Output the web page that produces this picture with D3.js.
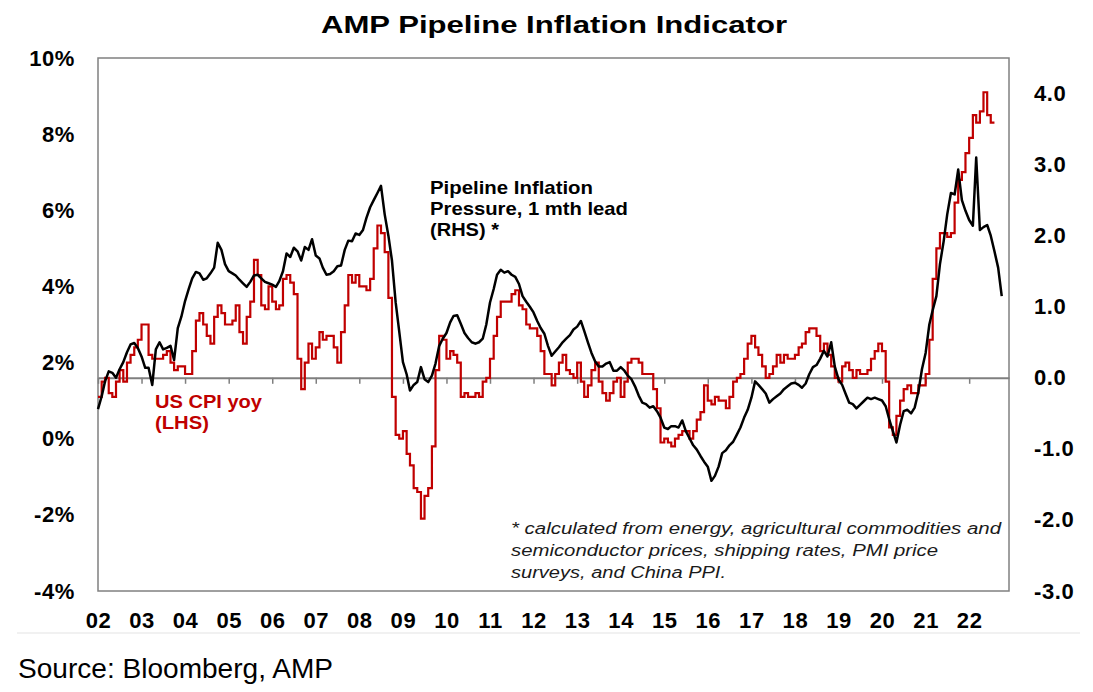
<!DOCTYPE html>
<html>
<head>
<meta charset="utf-8">
<script src="https://cdn.jsdelivr.net/npm/d3@7"></script>
<style>
body { margin: 0; background: #fff; }
text { font-family: "Liberation Sans", Arial, sans-serif; }
</style>
</head>
<body>
<script>
// US CPI yoy (%), monthly from Jan 2002 - LHS
var cpiYoy = [
  1.1,1.1,1.5,1.6,1.2,1.1,1.5,1.8,1.5,2.0,2.2,2.4,   // 02
  2.6,3.0,3.0,2.2,2.1,2.1,2.1,2.2,2.3,2.0,1.8,1.9,   // 03
  1.9,1.7,1.7,2.3,3.1,3.3,3.0,2.7,2.5,3.2,3.5,3.3,   // 04
  3.0,3.0,3.1,3.5,2.8,2.5,3.2,3.6,4.7,4.3,3.5,3.4,   // 05
  4.0,3.6,3.4,3.5,4.2,4.3,4.1,3.8,2.1,1.3,2.0,2.5,   // 06
  2.1,2.4,2.8,2.6,2.7,2.7,2.4,2.0,2.8,3.5,4.3,4.1,   // 07
  4.3,4.0,4.0,3.9,4.2,5.0,5.6,5.4,4.9,3.7,1.1,0.1,   // 08
  0.0,0.2,-0.4,-0.7,-1.3,-1.4,-2.1,-1.5,-1.3,-0.2,1.8,2.7, // 09
  2.6,2.1,2.3,2.2,2.0,1.1,1.2,1.1,1.1,1.2,1.1,1.5,   // 10
  1.6,2.1,2.7,3.2,3.6,3.6,3.6,3.8,3.9,3.5,3.4,3.0,   // 11
  2.9,2.9,2.7,2.3,1.7,1.7,1.4,1.7,2.0,2.2,1.8,1.7,   // 12
  1.6,2.0,1.5,1.1,1.4,1.8,2.0,1.5,1.2,1.0,1.2,1.5,   // 13
  1.6,1.1,1.5,2.0,2.1,2.1,2.0,1.7,1.7,1.7,1.3,0.8,   // 14
  -0.1,0.0,-0.1,-0.2,0.0,0.1,0.2,0.2,0.0,0.2,0.5,0.7, // 15
  1.4,1.0,0.9,1.1,1.0,1.0,0.8,1.1,1.5,1.6,1.7,2.1,   // 16
  2.5,2.7,2.4,2.2,1.9,1.6,1.7,1.9,2.2,2.0,2.2,2.1,   // 17
  2.1,2.2,2.4,2.5,2.8,2.9,2.9,2.7,2.3,2.5,2.2,1.9,   // 18
  1.6,1.5,1.9,2.0,1.8,1.6,1.8,1.7,1.7,1.8,2.1,2.3,   // 19
  2.5,2.3,1.5,0.3,0.1,0.6,1.0,1.3,1.4,1.2,1.2,1.4,   // 20
  1.4,1.7,2.6,4.2,5.0,5.4,5.4,5.3,5.4,6.2,6.8,7.0,   // 21
  7.5,7.9,8.5,8.3,8.6,9.1,8.5,8.3                    // 22
];

// Pipeline inflation pressure, 1 mth lead, monthly from Jan 2002 - RHS
var pipeline = [
  -0.44,-0.26,-0.05,0.09,0.07,0.00,0.12,0.22,0.36,0.47,0.49,0.42,   // 02
  0.30,0.14,0.14,-0.10,0.40,0.50,0.40,0.42,0.45,0.25,0.70,0.86,    // 03
  1.08,1.25,1.40,1.49,1.47,1.38,1.40,1.47,1.55,1.90,1.80,1.60,     // 04
  1.50,1.47,1.44,1.38,1.33,1.28,1.35,1.44,1.45,1.40,1.35,1.33,     // 05
  1.31,1.28,1.36,1.50,1.75,1.70,1.83,1.78,1.65,1.84,1.80,1.95,     // 06
  1.72,1.68,1.55,1.45,1.46,1.50,1.57,1.58,1.80,1.93,1.92,2.03,     // 07
  2.01,2.08,2.25,2.40,2.50,2.60,2.70,2.30,2.00,1.65,1.06,0.65,     // 08
  0.22,0.05,-0.18,-0.10,-0.06,0.15,-0.02,-0.06,0.03,0.20,0.45,0.55, // 09
  0.63,0.78,0.87,0.88,0.76,0.63,0.56,0.50,0.48,0.50,0.55,0.75,     // 10
  1.06,1.25,1.45,1.52,1.48,1.50,1.45,1.42,1.32,1.15,1.07,1.00,     // 11
  0.92,0.80,0.70,0.62,0.45,0.31,0.37,0.43,0.50,0.55,0.60,0.68,     // 12
  0.72,0.80,0.66,0.50,0.35,0.23,0.16,0.16,0.20,0.22,0.10,0.10,     // 13
  0.15,0.10,0.03,-0.02,-0.12,-0.25,-0.35,-0.37,-0.42,-0.40,-0.47,-0.56, // 14
  -0.70,-0.72,-0.68,-0.68,-0.70,-0.60,-0.75,-0.85,-0.95,-1.01,-1.10,-1.18, // 15
  -1.25,-1.45,-1.38,-1.25,-1.06,-1.02,-0.95,-0.90,-0.80,-0.70,-0.56,-0.45, // 16
  -0.28,-0.05,-0.10,-0.16,-0.22,-0.35,-0.30,-0.26,-0.22,-0.16,-0.12,-0.08, // 17
  -0.07,-0.10,-0.14,-0.08,0.05,0.15,0.18,0.27,0.38,0.30,0.50,0.16, // 18
  -0.02,-0.10,-0.22,-0.35,-0.37,-0.43,-0.38,-0.33,-0.28,-0.30,-0.28,-0.30, // 19
  -0.32,-0.40,-0.58,-0.75,-0.91,-0.66,-0.47,-0.45,-0.50,-0.42,-0.20,0.12, // 20
  0.35,0.75,0.95,1.15,1.60,1.92,2.30,2.60,2.58,2.93,2.50,2.35,     // 21
  2.22,2.14,3.10,2.08,2.12,2.15,2.00,1.78,1.55,1.15                // 22
];

var leftTicks = [-4, -2, 0, 2, 4, 6, 8, 10];
var rightTicks = [-3, -2, -1, 0, 1, 2, 3, 4];

var chartTitle = "AMP Pipeline Inflation Indicator";
var pipelineLabel = ["Pipeline Inflation", "Pressure, 1 mth lead", "(RHS) *"];
var cpiLabel = ["US CPI yoy", "(LHS)"];
var footnote = [
  "* calculated from energy, agricultural commodities and",
  "semiconductor prices, shipping rates, PMI price",
  "surveys, and China PPI."
];
var sourceText = "Source: Bloomberg, AMP";

//SVG dimension variables
var w = 1093, h = 692;
var plot = { left: 98, right: 1009, top: 58, bottom: 591 };

var svg = d3.select("body")
    .append("svg")
    .attr("width", w)
    .attr("height", h)
    .style("background-color", "#fff");

var start = new Date(2002, 0, 1);
function monthDate(i) { return d3.timeMonth.offset(start, i); }

var x = d3.scaleTime()
    .domain([start, new Date(2022, 11, 1)])
    .range([plot.left, plot.right]);

var yL = d3.scaleLinear().domain([-4, 10]).range([plot.bottom, plot.top]);
var yR = d3.scaleLinear().domain([-3, 4.5]).range([plot.bottom, plot.top]);

//title
svg.append("text")
    .attr("x", 554)
    .attr("y", 33)
    .attr("text-anchor", "middle")
    .attr("font-size", 24)
    .attr("font-weight", "bold")
    .attr("textLength", 466)
    .attr("lengthAdjust", "spacingAndGlyphs")
    .text(chartTitle);

//plot frame
svg.append("rect")
    .attr("x", plot.left)
    .attr("y", plot.top)
    .attr("width", plot.right - plot.left)
    .attr("height", plot.bottom - plot.top)
    .attr("fill", "none")
    .attr("stroke", "#808080")
    .attr("stroke-width", 1.5);

//zero line of the RHS with year ticks
var zeroAxis = svg.append("g")
    .attr("transform", "translate(0," + yR(0) + ")")
    .call(d3.axisBottom(x)
        .ticks(d3.timeYear.every(1))
        .tickSize(6)
        .tickSizeOuter(0)
        .tickFormat(""));
zeroAxis.select(".domain").attr("stroke", "#7f7f7f").attr("stroke-width", 2);
zeroAxis.selectAll(".tick line").attr("stroke", "#7f7f7f").attr("stroke-width", 1.5);

//year labels
var xAxis = svg.append("g")
    .attr("transform", "translate(0," + plot.bottom + ")")
    .call(d3.axisBottom(x)
        .ticks(d3.timeYear.every(1))
        .tickSize(0)
        .tickPadding(21)
        .tickFormat(d3.timeFormat("%y")));
xAxis.select(".domain").remove();

//left axis
var leftAxis = svg.append("g")
    .attr("transform", "translate(" + plot.left + ",0)")
    .call(d3.axisLeft(yL)
        .tickValues(leftTicks)
        .tickSize(0)
        .tickPadding(23)
        .tickFormat(function(d){ return d + "%"; }));
leftAxis.select(".domain").remove();

//right axis
var rightAxis = svg.append("g")
    .attr("transform", "translate(" + plot.right + ",0)")
    .call(d3.axisRight(yR)
        .tickValues(rightTicks)
        .tickSize(0)
        .tickPadding(25)
        .tickFormat(function(d){ return d.toFixed(1); }));
rightAxis.select(".domain").remove();

[xAxis, leftAxis, rightAxis].forEach(function(g){
    g.attr("font-family", null).attr("font-size", null);
    g.selectAll("text")
        .attr("font-size", 22)
        .attr("font-weight", "bold")
        .attr("fill", "#000")
        .attr("letter-spacing", 0.6);
});

//CPI line (step)
var cpiLine = d3.line()
    .x(function(d, i){ return x(monthDate(i)); })
    .y(function(d){ return yL(d); })
    .curve(d3.curveStepBefore);

svg.append("path")
    .datum(cpiYoy)
    .attr("d", cpiLine)
    .attr("fill", "none")
    .attr("stroke", "#c00000")
    .attr("stroke-width", 2.2);

//pipeline line
var pipeLine = d3.line()
    .x(function(d, i){ return x(monthDate(i)); })
    .y(function(d){ return yR(d); });

svg.append("path")
    .datum(pipeline)
    .attr("d", pipeLine)
    .attr("fill", "none")
    .attr("stroke", "#000")
    .attr("stroke-width", 2.5)
    .attr("stroke-linejoin", "round");

//labels inside the chart
function addText(tx, ty, str, opts) {
    var t = svg.append("text")
        .attr("x", tx)
        .attr("y", ty)
        .attr("font-size", opts.size)
        .attr("font-weight", opts.weight || "normal")
        .attr("font-style", opts.style || "normal")
        .attr("fill", opts.fill || "#000")
        .text(str);
    if (opts.len) {
        t.attr("textLength", opts.len).attr("lengthAdjust", "spacingAndGlyphs");
    }
    return t;
}

var pipeLens = [163, 198, 69];
pipelineLabel.forEach(function(s, i){
    addText(430, 194 + i * 21, s, { size: 19, weight: "bold", len: pipeLens[i] });
});

var cpiLens = [107, 54];
cpiLabel.forEach(function(s, i){
    addText(155, 408 + i * 21, s, { size: 18, weight: "bold", fill: "#c00000", len: cpiLens[i] });
});

var footLens = [490, 427, 215];
footnote.forEach(function(s, i){
    addText(511, 534 + i * 22, s, { size: 16, style: "italic", fill: "#1a1a1a", len: footLens[i] });
});

//separator and source
svg.append("line")
    .attr("x1", 17).attr("x2", 1080)
    .attr("y1", 633).attr("y2", 633)
    .attr("stroke", "#ececec")
    .attr("stroke-width", 1.5);

addText(18, 678, sourceText, { size: 28, len: 315 });
</script>
</body>
</html>
